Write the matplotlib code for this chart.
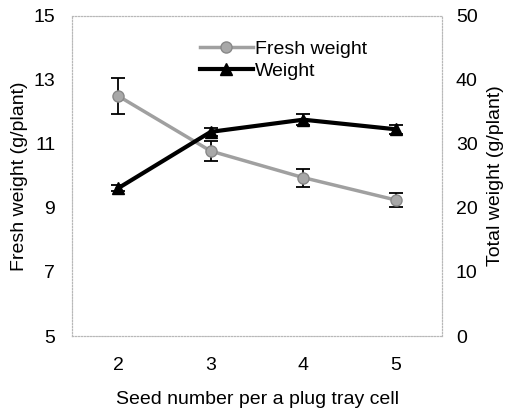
import matplotlib.pyplot as plt
from matplotlib.lines import Line2D

plt.rcParams['font.family'] = ['Liberation Sans', 'DejaVu Sans']

seed = [2, 3, 4, 5]
fresh = [12.5, 10.78, 9.95, 9.25]
fresh_err = [0.55, 0.32, 0.28, 0.23]
weight = [23.1, 31.9, 33.8, 32.3]
weight_err = [0.5, 0.6, 0.9, 0.7]

fig = plt.figure(figsize=(5.09, 4.15), dpi=100)
ax = fig.add_axes([72 / 509, 79 / 415, 370 / 509, 320 / 415])
ax2 = ax.twinx()

gray_style = dict(color='#a0a0a0', lw=2.5, marker='o', ms=8,
                  mfc='#a8a8a8', mec='#888888')
black_style = dict(color='black', lw=3, marker='^', ms=8)

ax.errorbar(seed, fresh, yerr=fresh_err, ecolor='black', elinewidth=1.3,
            capsize=5, capthick=1.3, zorder=3, **gray_style)
ax2.errorbar(seed, weight, yerr=weight_err, ecolor='black', elinewidth=1.3,
             capsize=5, capthick=1.3, zorder=3, **black_style)

ax.set_xlim(1.5, 5.5)
ax.set_ylim(5, 15)
ax.set_yticks([5, 7, 9, 11, 13, 15])
ax.set_xticks(seed)
ax2.set_ylim(0, 50)
ax2.set_yticks([0, 10, 20, 30, 40, 50])

for a in (ax, ax2):
    for s in a.spines.values():
        s.set_color('#b8b8b8')
        s.set_linestyle(':')
        s.set_linewidth(0.8)
    a.tick_params(labelsize=14, length=0, colors='black')
ax.tick_params(axis='y', pad=12)
ax.tick_params(axis='x', pad=15)
ax2.tick_params(axis='y', pad=10)

ax.set_xlabel('Seed number per a plug tray cell', fontsize=14, labelpad=12)
ax.set_ylabel('Fresh weight (g/plant)', fontsize=14, labelpad=4)
ax2.set_ylabel('Total weight (g/plant)', fontsize=14, labelpad=7)

handles = [Line2D([], [], **gray_style), Line2D([], [], **black_style)]
ax.legend(handles, ['Fresh weight', 'Weight'], loc='upper left',
          bbox_to_anchor=(0.32, 0.955), frameon=False, fontsize=14,
          handlelength=2.7, handletextpad=0.1, labelspacing=0.25,
          borderpad=0)

fig.savefig('out.png', dpi=100)
